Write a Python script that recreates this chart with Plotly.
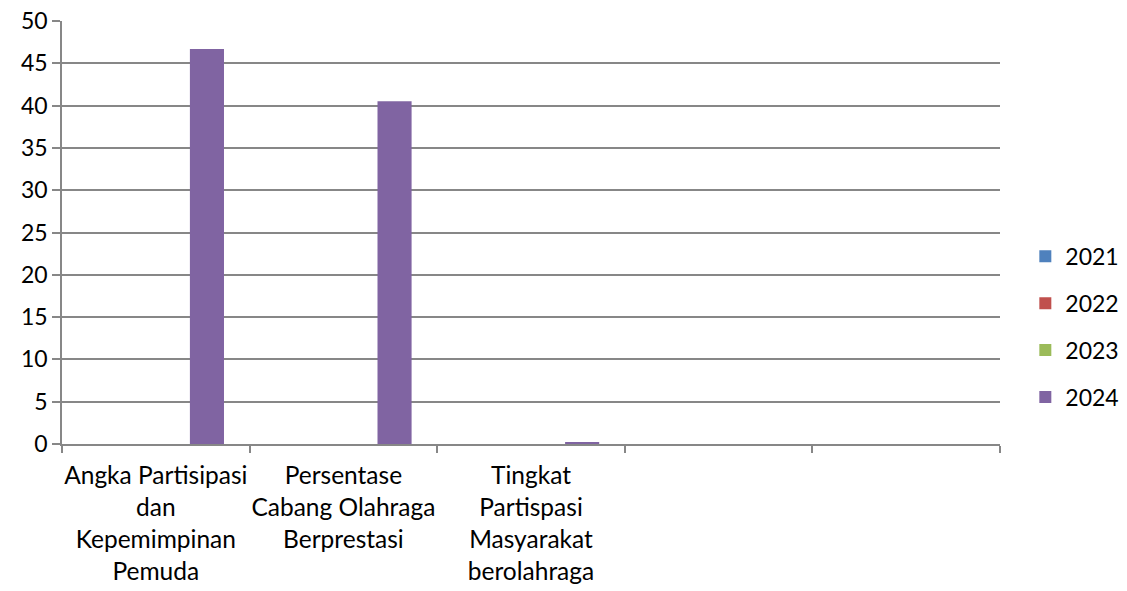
import plotly.graph_objects as go

categories = [
    "Angka Partisipasi<br>dan<br>Kepemimpinan<br>Pemuda",
    "Persentase<br>Cabang Olahraga<br>Berprestasi",
    "Tingkat<br>Partispasi<br>Masyarakat<br>berolahraga",
    " ",
    "  ",
]
series_names = ["2021", "2022", "2023", "2024"]
values_2021 = [0, 0, 0, 0, 0]
values_2022 = [0, 0, 0, 0, 0]
values_2023 = [0, 0, 0, 0, 0]
values_2024 = [46.7, 40.5, 0.25, 0, 0]
series_values = [values_2021, values_2022, values_2023, values_2024]
colors = ["#4F81BD", "#C0504D", "#9BBB59", "#8064A2"]

FONT = "Lato, 'Open Sans', sans-serif"
GRID = "#878787"
FS = 23

fig = go.Figure()
for name, vals, col in zip(series_names, series_values, colors):
    fig.add_trace(go.Bar(
        x=categories, y=vals, name=name,
        marker=dict(color=col, line=dict(width=0)),
        legendgroup=name,
    ))

fig.update_layout(
    width=1127, height=591,
    margin=dict(l=62, r=127, t=21, b=147, autoexpand=False),
    paper_bgcolor="white", plot_bgcolor="white",
    font=dict(family=FONT, size=FS, color="black"),
    barmode="group", bargap=0.273, bargroupgap=0,
    showlegend=True,
    legend=dict(x=1.027, y=0.277, xanchor="left", yanchor="middle",
                font=dict(size=FS), tracegroupgap=14,
                itemwidth=30),
)
fig.update_xaxes(
    type="category", tickson="boundaries", ticks="outside", ticklen=7,
    tickcolor=GRID, tickwidth=1.5, showline=True, linecolor=GRID, linewidth=1.5,
    showgrid=False, tickfont=dict(size=24.5), ticklabelstandoff=9,
    tickangle=0, automargin=False,
)
fig.update_yaxes(
    range=[0, 50], dtick=5, tick0=0, ticks="outside", ticklen=8,
    tickcolor=GRID, tickwidth=1.5, showline=True, linecolor=GRID, linewidth=1.5,
    showgrid=True, gridcolor=GRID, gridwidth=1.5, zeroline=False,
    tickfont=dict(size=FS), automargin=False,
)

fig.write_html("out.html", config={"displayModeBar": False},
               post_script="document.body.style.margin='0';")
